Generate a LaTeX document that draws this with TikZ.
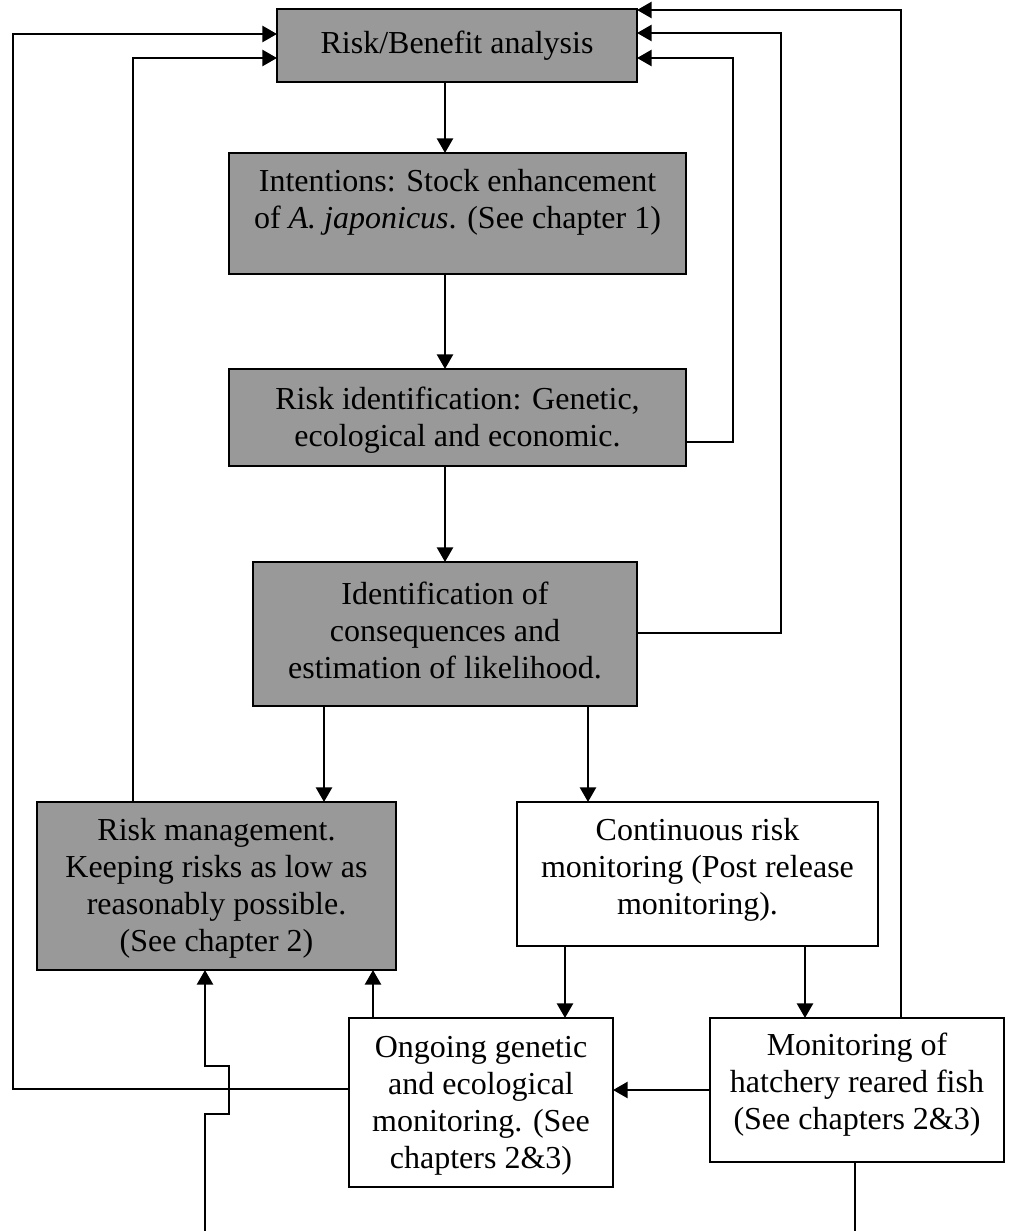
\documentclass[tikz,border=0pt]{standalone}
\usepackage{fontspec}
\setmainfont{Liberation Serif}
\usetikzlibrary{arrows.meta}
\definecolor{boxgray}{RGB}{153,153,153}
\begin{document}
\begin{tikzpicture}[x=0.75pt,y=-0.75pt,
  box/.style={draw=black, line width=2pt, inner sep=0pt, outer sep=0pt},
  gbox/.style={box, fill=boxgray},
  wbox/.style={box, fill=white},
  txt/.style={align=center, inner sep=0pt, font=\fontsize{24}{27.75}\selectfont},
  conn/.style={line width=2pt},
  arr/.style={conn, -{Triangle[length=11pt,width=12pt]}}]
\useasboundingbox (0,0) rectangle (1014,1231);

% boxes
\node[gbox, minimum width=270pt, minimum height=54.75pt] (rb) at (457,45.5) {};
\node[gbox, minimum width=342.75pt, minimum height=90.75pt] (intent) at (457.5,213.5) {};
\node[gbox, minimum width=342.75pt, minimum height=72.75pt] (riskid) at (457.5,417.5) {};
\node[gbox, minimum width=288pt, minimum height=108pt] (cons) at (445,634) {};
\node[gbox, minimum width=269.25pt, minimum height=126pt] (mgmt) at (216.5,886) {};
\node[wbox, minimum width=270.75pt, minimum height=108pt] (cont) at (697.5,874) {};
\node[wbox, minimum width=198pt, minimum height=126.75pt] (ongo) at (481,1102.5) {};
\node[wbox, minimum width=220.5pt, minimum height=108pt] (hatch) at (857,1090) {};

% texts
\node[txt] (rbt) at (457,46) {Risk/Benefit analysis};
\node[txt] (intentt) at (457.5,202) {Intentions: Stock enhancement\\of \textit{A. japonicus}. (See chapter 1)};
\node[txt] (riskidt) at (457.5,420) {Risk identification: Genetic,\\ecological and economic.};
\node[txt] (const) at (445,630) {Identification of\\consequences and\\estimation of likelihood.};
\node[txt] (mgmtt) at (216.5,888) {Risk management.\\Keeping risks as low as\\reasonably possible.\\(See chapter 2)};
\node[txt] (contt) at (697.5,870) {Continuous risk\\monitoring (Post release\\monitoring).};
\node[txt] (ongot) at (481,1106) {Ongoing genetic\\and ecological\\monitoring. (See\\chapters 2\&3)};
\node[txt] (hatcht) at (857,1085) {Monitoring of\\hatchery reared fish\\(See chapters 2\&3)};

% helper coordinates
\coordinate (k1) at (733,442);  \coordinate (k1t) at (733,58);
\coordinate (k2) at (781,633);  \coordinate (k2t) at (781,33);
\coordinate (k3) at (901,1018); \coordinate (k3t) at (901,10);
\coordinate (k4) at (133,802);  \coordinate (k4t) at (133,58);
\coordinate (k5) at (13,1089);  \coordinate (k5t) at (13,34);
\coordinate (k6) at (324,0);
\coordinate (k7) at (588,0);
\coordinate (k8) at (565,0);
\coordinate (k9) at (805,0);
\coordinate (k10) at (0,1090);
\coordinate (k11) at (373,0);
\coordinate (b1) at (205,1231);
\coordinate (b2) at (205,1114);
\coordinate (b3) at (229,1114);
\coordinate (b4) at (229,1066);
\coordinate (b5) at (205,1066);
\coordinate (b6) at (855,1231);

% main column
\draw[arr] (rb.south -| cons.north) -- (intent.north -| cons.north);
\draw[arr] (intent.south -| cons.north) -- (riskid.north -| cons.north);
\draw[arr] (riskid.south -| cons.north) -- (cons.north);

% feedback to risk/benefit
\draw[arr] (riskid.east |- k1) -- (k1) -- (k1t) -- (rb.east |- k1t);
\draw[arr] (cons.east |- k2) -- (k2) -- (k2t) -- (rb.east |- k2t);
\draw[arr] (hatch.north -| k3) -- (k3t) -- (rb.east |- k3t);
\draw[arr] (mgmt.north -| k4) -- (k4t) -- (rb.west |- k4t);
\draw[arr] (ongo.west |- k5) -- (k5) -- (k5t) -- (rb.west |- k5t);

% lower part
\draw[arr] (cons.south -| k6) -- (mgmt.north -| k6);
\draw[arr] (cons.south -| k7) -- (cont.north -| k7);
\draw[arr] (cont.south -| k8) -- (ongo.north -| k8);
\draw[arr] (cont.south -| k9) -- (hatch.north -| k9);
\draw[arr] (hatch.west |- k10) -- (ongo.east |- k10);
\draw[arr] (ongo.north -| k11) -- (mgmt.south -| k11);
\draw[arr] (b1) -- (b2) -- (b3) -- (b4) -- (b5) -- (mgmt.south -| b5);
\draw[conn] (hatch.south -| b6) -- (b6);
\end{tikzpicture}
\end{document}
